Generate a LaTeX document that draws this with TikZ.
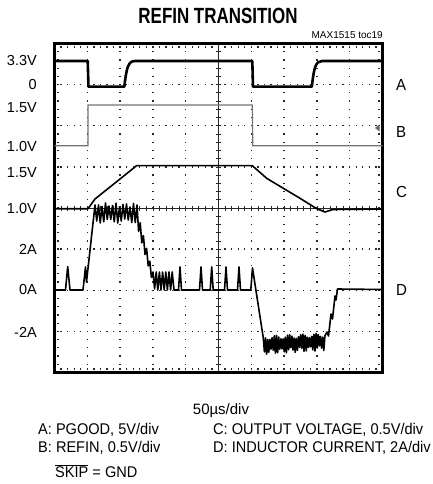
\documentclass[tikz,border=0pt]{standalone}
\usepackage{fontspec}
\setmainfont{Liberation Sans}
\newfontfamily\narrowfont{Liberation Sans}[FakeStretch=0.94]
\newfontfamily\titlefont{Liberation Sans}[FakeStretch=0.77]
\usetikzlibrary{positioning}

\begin{document}
\begin{tikzpicture}[x=1bp, y=-1bp]
    \tikzstyle{frame} = [line width=2.6bp, black]
    \tikzstyle{hgrid} = [line width=1.4bp, black!85, dash pattern=on 1.3bp off 5.26bp, dash phase=0.65bp]
    \tikzstyle{vgrid} = [line width=1.4bp, black!85, dash pattern=on 1.3bp off 6.925bp, dash phase=0.65bp]
    \tikzstyle{axis} = [line width=0.7bp, black!85]
    \tikzstyle{ylabel} = [anchor=east, inner sep=0pt, font=\fontsize{14.5bp}{16bp}\selectfont]
    \tikzstyle{tracelabel} = [anchor=west, inner sep=0pt, font=\narrowfont\fontsize{16bp}{18bp}\selectfont]
    \tikzstyle{legend} = [anchor=base west, inner sep=0pt, font=\narrowfont\fontsize{15.5bp}{18bp}\selectfont]
    \tikzstyle{trace} = [line width=1.6bp, black, line join=round]

    \useasboundingbox (0,0) rectangle (432,484);

    % graticule
    \foreach \i in {1,2,3,4,6,7,8,9}
      \draw[vgrid] (54.5+32.8*\i,43.5) -- (54.5+32.8*\i,372.5);
    \foreach \j in {1,2,3,5,6,7}
      \draw[hgrid] (54.5,43.5+41.125*\j) -- (382.5,43.5+41.125*\j);
    \draw[hgrid] (54.5,47) -- (382.5,47);
    \draw[hgrid] (54.5,369) -- (382.5,369);
    \draw[vgrid] (58,43.5) -- (58,372.5);
    \draw[vgrid] (379,43.5) -- (379,372.5);
    \draw[axis] (54.5,208) -- (382.5,208);
    \draw[axis] (218.5,43.5) -- (218.5,372.5);
    \foreach \k in {1,...,49}
      \draw[axis] (54.5+6.56*\k,205.5) -- (54.5+6.56*\k,210.5);
    \foreach \k in {1,...,39}
      \draw[axis] (216,43.5+8.225*\k) -- (221,43.5+8.225*\k);
    \draw[frame] (54.5,43.5) rectangle (382.5,372.5);

    % traces
    \draw[trace, line width=2.6bp] (54.5,61) -- (87.7,61) -- (88.5,86.7) -- (124.3,86.7)
      .. controls (126.5,68) and (128,61) .. (135,61) -- (252.3,61) -- (253,86.7) -- (311.8,86.7)
      .. controls (314,68) and (315.5,61) .. (322,61) -- (382.5,61);
    \draw[line width=1.2bp, black!55] (54.5,145.7) -- (88,145.7) -- (88,105) -- (252.3,105)
      -- (252.8,145.7) -- (382.5,145.7);
    \fill[black!60] (379.5,124.5) -- (375,128) -- (379.5,131.5) -- cycle;
    \draw[trace] (54.5,208.7) -- (88,208.7) -- (95,199) -- (110,187) -- (125,175) -- (136.5,165.7)
      -- (252.3,165.7) -- (266.7,178.3) -- (283.3,188.3) -- (300,198.3) -- (316.7,208.7)
      -- (325,212) -- (333,209.5) -- (382.5,209);
    \draw[trace] (54.5,290) -- (65.5,290) -- (67.7,266.7) -- (70,290) -- (83,290) -- (85.5,267)
      -- (86.5,282) -- (95,205)
      \foreach \k in {0,...,11} { -- ({95+3.5*\k+1.75},{221+2*sin(\k*77)}) -- ({95+3.5*\k+3.5},{205+2*sin(\k*131)}) }
      \foreach \k [evaluate=\k as \xa using 137+3.2*\k+1.6, evaluate=\k as \xb using 137+3.2*\k+3.2] in {0,...,10}
        { -- (\xa,{min(222+(\xa-136)*3.6,290)}) -- (\xb,{min(206+(\xb-136)*4,272)}) }
      -- (174,290) -- (178.5,290) -- (180,267) -- (181.5,290) -- (199.5,290) -- (201,267) -- (202.5,290)
      -- (210.2,290) -- (211.7,267) -- (213.2,290) -- (224.5,290) -- (226,267) -- (227.5,290)
      -- (237.5,290) -- (239,267) -- (240.5,290) -- (250.8,290) -- (252.5,268) -- (263.3,338)
      \foreach \k [evaluate=\k as \xa using 263.3+2.2*\k+1.1, evaluate=\k as \xb using 263.3+2.2*\k+2.2] in {0,...,27}
        { -- (\xa,{352-4*(\xa-263)/62+2.5*sin(\k*83)}) -- (\xb,{338-3*(\xb-263)/62+2*sin(\k*59)}) }
      -- (327,332) -- (328.5,336) -- (331,314) -- (332.5,319) -- (335,296) -- (336,300)
      -- (337.5,289) -- (382.5,289.5);

    % labels
    \node (title) at (218,16) [inner sep=0pt, font=\fontsize{22bp}{24bp}\titlefont\bfseries] {REFIN TRANSITION};
    \node (tocref) at (383,35) [anchor=east, inner sep=0pt, font=\fontsize{10bp}{12bp}\selectfont] {MAX1515 toc19};
    \foreach \t/\y/\n in {3.3V/61/ahigh, 0/85/alow, 1.5V/108/bhigh, 1.0V/147/blow, 1.5V/173/chigh,
                          1.0V/209/clow, 2A/249/dtwo, 0A/290/dzero, -2A/332/dneg}
      \node[ylabel] (\n) at (37,\y) {\t};
    \node[tracelabel] (labA) at (396,85) {A};
    \node[tracelabel] (labB) at (396,132) {B};
    \node[tracelabel] (labC) at (396,192) {C};
    \node[tracelabel] (labD) at (396,290) {D};
    \node (timebase) at (221,414) [anchor=base, inner sep=0pt, font=\fontsize{15bp}{18bp}\selectfont] {50µs/div};
    \node[legend] (legA) at (38,434) {A: PGOOD, 5V/div};
    \node[legend] (legB) at (38,452) {B: REFIN, 0.5V/div};
    \node[legend] (legskip) at (55,477) {$\overline{\hbox{SKIP}}$ = GND};
    \node[legend] (legC) at (213,434) {C: OUTPUT VOLTAGE, 0.5V/div};
    \node[legend] (legD) at (213,452) {D: INDUCTOR CURRENT, 2A/div};
\end{tikzpicture}
\end{document}
